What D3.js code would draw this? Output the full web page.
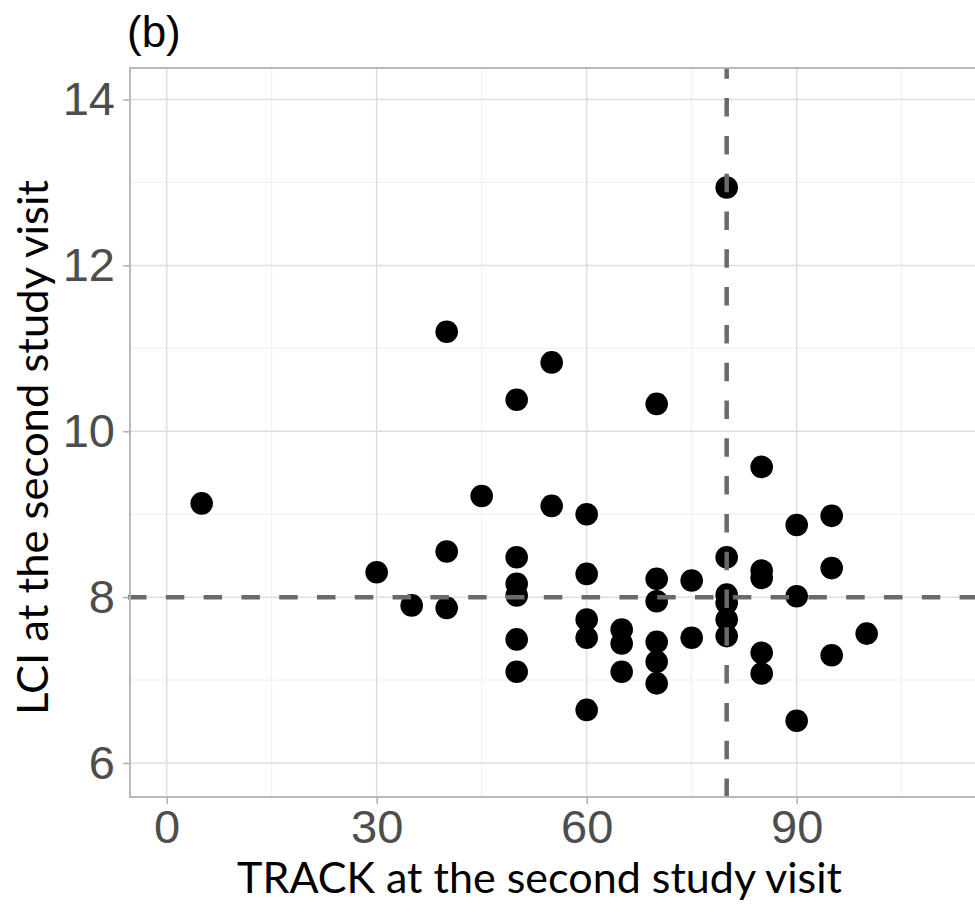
<!DOCTYPE html>
<html>
<head>
<meta charset="utf-8">
<script src="https://cdn.jsdelivr.net/npm/d3@7"></script>
<style>
	body { margin: 0; background: #fff; }
</style>
</head>
<body>
<div class="vis-scatter"></div>
<script>
const trackVals = [5, 30, 35, 40, 40, 40, 45, 50, 50, 50, 50, 50, 50, 55, 55, 60, 60, 60, 60, 60, 65, 65, 65, 70, 70, 70, 70, 70, 70, 75, 75, 80, 80, 80, 80, 80, 80, 85, 85, 85, 85, 85, 90, 90, 90, 95, 95, 95, 100];
const lciVals = [9.13, 8.3, 7.9, 11.2, 8.55, 7.87, 9.22, 10.38, 8.48, 8.16, 8.02, 7.49, 7.1, 10.83, 9.1, 9.0, 8.28, 7.73, 7.51, 6.64, 7.61, 7.44, 7.1, 10.33, 8.22, 7.95, 7.46, 7.22, 6.96, 8.2, 7.51, 12.94, 8.48, 8.03, 7.93, 7.73, 7.53, 9.57, 8.32, 8.23, 7.33, 7.08, 8.87, 8.01, 6.51, 8.98, 8.35, 7.3, 7.56];
const xTicks = [0, 30, 60, 90];
const xMajor = [0, 30, 60, 90, 120];
const xMinor = [15, 45, 75, 105];
const yTicks = [6, 8, 10, 12, 14];
const yMinor = [7, 9, 11, 13];
const lciCut = 8;
const trackCut = 80;

const width = 975;
const height = 912;
const panelLeft = 130;
const panelTop = 68;
const panelBottom = 797;

const x = d3.scaleLinear().domain([-5.24, 120]).range([panelLeft, panelLeft + 125.24 * 7]);
const y = d3.scaleLinear().domain([5.59, 14.38]).range([panelBottom, panelTop]);
const panelRight = x.range()[1];

const svg = d3.create("svg").attr("width", width).attr("height", height);
d3.select(".vis-scatter").append(() => svg.node());

svg.append("text")
	.attr("x", 127)
	.attr("y", 47)
	.attr("font-family", "Liberation Sans, Arial, sans-serif")
	.attr("font-size", 44)
	.attr("fill", "#000")
	.text("(b)");

// grid
const grid = svg.append("g");
grid.selectAll(".xmin").data(xMinor).join("line")
	.attr("x1", (d) => x(d)).attr("x2", (d) => x(d))
	.attr("y1", panelTop).attr("y2", panelBottom)
	.attr("stroke", "#eeeeee").attr("stroke-width", 1);
grid.selectAll(".ymin").data(yMinor).join("line")
	.attr("x1", panelLeft).attr("x2", panelRight)
	.attr("y1", (d) => y(d)).attr("y2", (d) => y(d))
	.attr("stroke", "#eeeeee").attr("stroke-width", 1);
grid.selectAll(".xmaj").data(xMajor).join("line")
	.attr("x1", (d) => x(d)).attr("x2", (d) => x(d))
	.attr("y1", panelTop).attr("y2", panelBottom)
	.attr("stroke", "#dedede").attr("stroke-width", 1.5);
grid.selectAll(".ymaj").data(yTicks).join("line")
	.attr("x1", panelLeft).attr("x2", panelRight)
	.attr("y1", (d) => y(d)).attr("y2", (d) => y(d))
	.attr("stroke", "#dedede").attr("stroke-width", 1.5);

// points
svg.append("g")
	.selectAll("circle")
	.data(trackVals.map((t, i) => ({ track: t, lci: lciVals[i] })))
	.join("circle")
	.attr("cx", (d) => x(d.track))
	.attr("cy", (d) => y(d.lci))
	.attr("r", 11.3)
	.attr("fill", "#000");

// cut-off lines drawn over the points
svg.append("line")
	.attr("x1", 128).attr("x2", panelRight)
	.attr("y1", y(lciCut)).attr("y2", y(lciCut))
	.attr("stroke", "#6a6a6a").attr("stroke-width", 4.5)
	.attr("stroke-dasharray", "18.5,19.3");
svg.append("line")
	.attr("x1", x(trackCut)).attr("x2", x(trackCut))
	.attr("y1", panelBottom).attr("y2", panelTop)
	.attr("stroke", "#6a6a6a").attr("stroke-width", 4.5)
	.attr("stroke-dasharray", "18.5,19.3");

// panel border
svg.append("rect")
	.attr("x", panelLeft).attr("y", panelTop)
	.attr("width", panelRight - panelLeft).attr("height", panelBottom - panelTop)
	.attr("fill", "none").attr("stroke", "#b3b3b3").attr("stroke-width", 1.8);

const styleAxis = (g) => {
	g.select(".domain").remove();
	g.selectAll(".tick line").attr("stroke", "#b3b3b3").attr("stroke-width", 1.6);
	g.selectAll(".tick text")
		.attr("fill", "#4d4d4d")
		.attr("font-family", "Liberation Sans, Arial, sans-serif")
		.attr("font-size", 47);
};

svg.append("g")
	.attr("transform", `translate(0,${panelBottom})`)
	.call(d3.axisBottom(x).tickValues(xTicks).tickSize(7).tickPadding(6))
	.call(styleAxis);

svg.append("g")
	.attr("transform", `translate(${panelLeft},0)`)
	.call(d3.axisLeft(y).tickValues(yTicks).tickSize(7).tickPadding(8))
	.call(styleAxis);

svg.append("text")
	.attr("x", 539.5)
	.attr("y", 893)
	.attr("text-anchor", "middle")
	.attr("font-family", "Lato, Open Sans, sans-serif")
	.attr("font-size", 43)
	.attr("textLength", 605)
	.attr("lengthAdjust", "spacingAndGlyphs")
	.attr("fill", "#000")
	.text("TRACK at the second study visit");

svg.append("text")
	.attr("transform", "translate(48,447.5) rotate(-90)")
	.attr("text-anchor", "middle")
	.attr("font-family", "Lato, Open Sans, sans-serif")
	.attr("font-size", 43)
	.attr("textLength", 535)
	.attr("lengthAdjust", "spacingAndGlyphs")
	.attr("fill", "#000")
	.text("LCI at the second study visit");
</script>
</body>
</html>
